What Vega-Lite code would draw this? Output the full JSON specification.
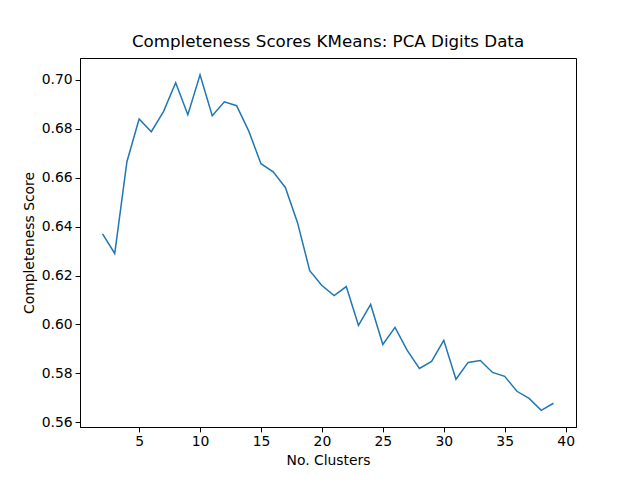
{
  "$schema": "https://vega.github.io/schema/vega-lite/v6.json",
  "width": 496,
  "height": 369,
  "autosize": {"type": "none"},
  "padding": {"left": 80, "top": 58, "right": 64, "bottom": 53},
  "background": "white",
  "title": {"text": "Completeness Scores KMeans: PCA Digits Data", "font": "DejaVu Sans", "fontSize": 16.7, "fontWeight": "normal", "offset": 7},
  "data": {
    "values": [
      {"k": 2, "s": 0.637}, {"k": 3, "s": 0.629}, {"k": 4, "s": 0.6665}, {"k": 5, "s": 0.684},
      {"k": 6, "s": 0.6788}, {"k": 7, "s": 0.687}, {"k": 8, "s": 0.6988}, {"k": 9, "s": 0.6857},
      {"k": 10, "s": 0.702}, {"k": 11, "s": 0.6853}, {"k": 12, "s": 0.691}, {"k": 13, "s": 0.6894},
      {"k": 14, "s": 0.679}, {"k": 15, "s": 0.6657}, {"k": 16, "s": 0.6624}, {"k": 17, "s": 0.656},
      {"k": 18, "s": 0.6416}, {"k": 19, "s": 0.622}, {"k": 20, "s": 0.6159}, {"k": 21, "s": 0.6118},
      {"k": 22, "s": 0.6155}, {"k": 23, "s": 0.5996}, {"k": 24, "s": 0.6082}, {"k": 25, "s": 0.5918},
      {"k": 26, "s": 0.5988}, {"k": 27, "s": 0.5894}, {"k": 28, "s": 0.582}, {"k": 29, "s": 0.5849},
      {"k": 30, "s": 0.5935}, {"k": 31, "s": 0.5776}, {"k": 32, "s": 0.5845}, {"k": 33, "s": 0.5853},
      {"k": 34, "s": 0.5804}, {"k": 35, "s": 0.5788}, {"k": 36, "s": 0.5727}, {"k": 37, "s": 0.5698},
      {"k": 38, "s": 0.5649}, {"k": 39, "s": 0.5678}
    ]
  },
  "mark": {"type": "line", "color": "#1f77b4", "strokeWidth": 1.5},
  "encoding": {
    "x": {"field": "k", "type": "quantitative", "title": "No. Clusters",
      "scale": {"domain": [0.15, 40.85], "nice": false, "zero": false},
      "axis": {"values": [5, 10, 15, 20, 25, 30, 35, 40], "grid": false}},
    "y": {"field": "s", "type": "quantitative", "title": "Completeness Score",
      "scale": {"domain": [0.5581, 0.7089], "nice": false, "zero": false},
      "axis": {"values": [0.56, 0.58, 0.6, 0.62, 0.64, 0.66, 0.68, 0.7], "format": ".2f", "grid": false}}
  },
  "config": {
    "view": {"stroke": "black", "strokeWidth": 1},
    "axis": {"labelFont": "DejaVu Sans", "titleFont": "DejaVu Sans", "labelFontSize": 13.9, "titleFontSize": 13.9,
      "titleFontWeight": "normal", "labelColor": "black", "titleColor": "black", "domainColor": "black",
      "tickColor": "black", "tickSize": 4.9, "labelPadding": 3, "titlePadding": 5, "labelFlush": false}
  }
}
